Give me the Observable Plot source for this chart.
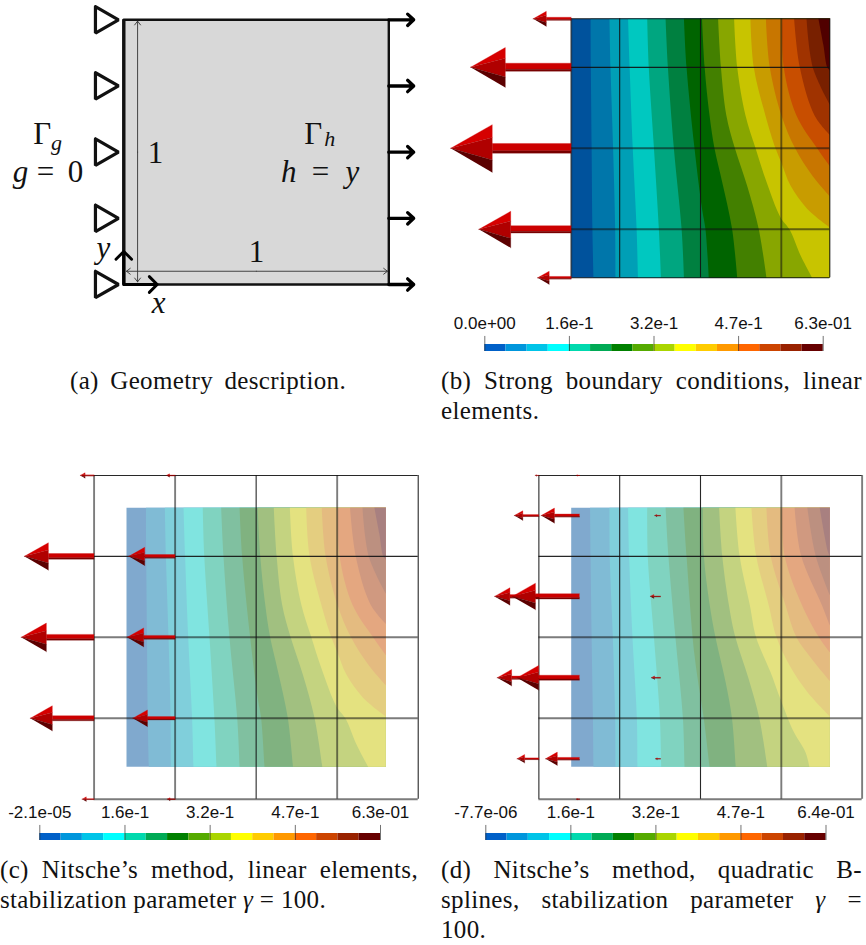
<!DOCTYPE html>
<html>
<head>
<meta charset="utf-8">
<style>
html,body{margin:0;padding:0;background:#fff;width:866px;height:945px;overflow:hidden}
#page{position:relative;width:866px;height:945px;overflow:hidden}
#page svg{position:absolute;background:transparent;max-width:none}
.cap{position:absolute;font-family:"Liberation Serif",serif;font-size:25px;line-height:30px;color:#111;white-space:nowrap;letter-spacing:.35px}
.just{text-align-last:justify;white-space:normal}
.cap i{font-style:italic}
</style>
<script src="https://cdn.jsdelivr.net/npm/d3@7"></script>
<script src="https://cdn.jsdelivr.net/npm/@observablehq/plot@0.6"></script>
</head>
<body>
<div id="page"></div>
<script>
// ---------- DATA (unit-square coordinates of the plate) ----------
const barColors = ["#0060c8","#0096dc","#00c4e8","#00ffff","#00d9ae","#00aa55","#008000","#55aa00","#aad500","#ffff00","#ffcc00","#ff9900","#ff6600","#cc4400","#992200","#660000"];
const contourColors = ["#00529c","#0076aa","#009fb6","#00c8c0","#00a680","#008040","#006400","#438000","#88a600","#c8c400","#c89c00","#c87600","#c84e00","#a03300","#782000","#500000"];

const levelV = [1, .813, .5, .187, 0];
// isolines of the strong / linear solution (panels b, c): [u, v] pairs
const isoLinear = [
  [.075,.076,.079,.082,.086].map((u,i)=>[u,levelV[i]]),
  [.148,.152,.162,.170,.171].map((u,i)=>[u,levelV[i]]),
  [.220,.226,.238,.253,.258].map((u,i)=>[u,levelV[i]]),
  [.294,.300,.320,.339,.347].map((u,i)=>[u,levelV[i]]),
  [.365,.374,.397,.427,.436].map((u,i)=>[u,levelV[i]]),
  [[.436,1],[.446,.813],[.477,.498],[.506,.266],[.519,.189],[.532,0]],
  [[.506,1],[.516,.813],[.535,.627],[.554,.5],[.584,.369],[.622,.189],[.642,0]],
  [[.568,1],[.579,.813],[.600,.627],[.633,.5],[.680,.356],[.725,.189],[.755,0]],
  [[.630,1],[.642,.813],[.674,.627],[.713,.5],[.751,.382],[.809,.234],[.844,.187],[.887,.086],[.932,0]],
  [[.693,1],[.706,.813],[.751,.627],[.790,.5],[.812,.446],[.848,.356],[.913,.266],[1,.195]],
  [[.753,1],[.768,.813],[.813,.627],[.866,.5],[.932,.395],[1,.315]],
  [[.816,1],[.822,.813],[.871,.627],[.951,.5],[1,.431]],
  [[.862,1],[.884,.813],[.941,.627],[1,.552]],
  [[.910,1],[.934,.813],[1,.668]],
  [[.956,1],[.975,.90],[.990,.813],[1,.80]]
];
// isolines of the quadratic B-spline solution (panel d)
const isoSpline = [
  [.073,.075,.079,.084,.086].map((u,i)=>[u,levelV[i]]),
  [.148,.149,.161,.170,.171].map((u,i)=>[u,levelV[i]]),
  [.220,.224,.237,.254,.256].map((u,i)=>[u,levelV[i]]),
  [.294,.296,.320,.343,.348].map((u,i)=>[u,levelV[i]]),
  [.365,.376,.403,.432,.438].map((u,i)=>[u,levelV[i]]),
  [[.434,1],[.446,.813],[.477,.43],[.513,.185],[.535,0]],
  [[.509,1],[.513,.816],[.536,.623],[.558,.5],[.597,.327],[.622,.185],[.636,0]],
  [[.572,1],[.584,.816],[.610,.623],[.635,.5],[.686,.340],[.728,.185],[.758,0]],
  [[.635,1],[.651,.816],[.691,.623],[.715,.5],[.771,.365],[.809,.262],[.861,.134],[.906,.056],[.921,0]],
  [[.697,1],[.715,.816],[.764,.623],[.794,.5],[.848,.385],[.913,.289],[1,.195]],
  [[.755,1],[.771,.816],[.829,.623],[.871,.5],[.925,.423],[1,.331]],
  [[.816,1],[.825,.816],[.893,.623],[.958,.5],[1,.442]],
  [[.864,1],[.889,.816],[.970,.623],[1,.546]],
  [[.913,1],[.945,.816],[1,.662]],
  [[.961,1],[.99,.84],[1,.81]]
];

const meshClipped = [0,.1875,.5,.8125,1];
const meshFull = [-.125,.1875,.5,.8125,1.125];

// reaction arrows: anchor u, anchor v, length
const arrowsB = [[0,1,.147],[0,.813,.389],[0,.5,.466],[0,.187,.357],[0,0,.130]];
const arrowsC = [
  [-.125,1.125,.053],[-.125,.8125,.269],[-.125,.5,.281],[-.125,.1875,.246],[-.125,-.125,.046],
  [.1875,1.125,.033],[.1875,.8125,.179],[.1875,.5,.185],[.1875,.1875,.163],[.1875,-.125,.030]
];
const arrowsD = [
  [-.125,1.125,.014],[-.125,.970,.095],[-.125,.658,.171],[-.125,.344,.161],[-.125,.031,.084],
  [.032,1.125,.012],[.032,.970,.148],[.032,.658,.260],[.032,.344,.241],[.032,.031,.131],[.032,-.125,.012],
  [.345,.970,.022],[.345,.658,.039],[.345,.344,.035],[.345,.031,.019]
];

const supportV = [1,.75,.5,.25,0];
const mathUpright = [
  {u:-.308,v:.568,t:"Γ"},{u:-.296,v:.425,t:"="},{u:-.182,v:.425,t:"0"},
  {u:.715,v:.568,t:"Γ"},{u:.742,v:.425,t:"="},
  {u:.120,v:.497,t:"1"},{u:.501,v:.123,t:"1"}
];
const mathItalic = [
  {u:-.390,v:.425,t:"g"},{u:.622,v:.425,t:"h"},{u:.863,v:.425,t:"y"},
  {u:-.077,v:.136,t:"y"},{u:.131,v:-.072,t:"x"}
];
const mathSub = [{u:-.254,v:.535,t:"g"},{u:.777,v:.55,t:"h"}];

const barB = {min:0,       ticks:[0,.1575,.315,.4725,.63],     labels:["0.0e+00","1.6e-1","3.2e-1","4.7e-1","6.3e-01"]};
const barC = {min:-2.1e-5, ticks:[-2.1e-5,.1575,.315,.4725,.63],labels:["-2.1e-05","1.6e-1","3.2e-1","4.7e-1","6.3e-01"]};
const barD = {min:-7.7e-6, ticks:[-7.7e-6,.16,.32,.48,.64],    labels:["-7.7e-06","1.6e-1","3.2e-1","4.7e-1","6.4e-01"]};

const captions = [
  {l:70, t:366,w:276,h:"(a) Geometry description."},
  {l:441,t:366,w:421,h:"(b) Strong boundary conditions, linear"},
  {l:441,t:396,h:"elements."},
  {l:0,  t:855,w:418,h:"(c) Nitsche’s method, linear elements,"},
  {l:0,  t:885,h:"stabilization parameter <i>γ</i> = 100."},
  {l:441,t:855,w:421,h:"(d) Nitsche’s method, quadratic B-"},
  {l:441,t:885,w:421,h:"splines, stabilization parameter <i>γ</i> ="},
  {l:441,t:915,h:"100."}
];

// ---------- helpers ----------
const page = document.getElementById("page");
function place(box, xr, yr, xd, yd, marks){
  const svg = Plot.plot({
    width:box.w, height:box.h, margin:0,
    x:{axis:null, domain:xd, range:[xr[0]-box.l, xr[1]-box.l]},
    y:{axis:null, domain:yd, range:[yr[0]-box.t, yr[1]-box.t]},
    style:{background:"transparent"},
    marks
  });
  svg.style.left = box.l+"px"; svg.style.top = box.t+"px";
  page.appendChild(svg);
}
const pts = {x:"0", y:"1"};
// rounds the first n vertices (the isoline), keeps the closing corners sharp
const isoCurve = (n)=>(ctx)=>{
  const c = d3.curveCatmullRom(ctx);
  let i = 0;
  return {
    lineStart(){ i = 0; c.lineStart(); },
    lineEnd(){ if(i<=n) c.lineEnd(); },
    point(x,y){
      if(i<n) c.point(x,y);
      else { if(i===n) c.lineEnd(); ctx.lineTo(x,y); }
      i++;
    }
  };
};
function bandMarks(iso, colors){
  const marks = [Plot.line([[0,0],[1,0],[1,1],[0,1]],{...pts,fill:colors[0],stroke:"none"})];
  iso.forEach((line,i)=>{
    const end = line[line.length-1];
    const poly = end[1]===0 ? [...line,[1,0],[1,1]] : [...line,[1,1]];
    marks.push(Plot.line(poly,{...pts,fill:colors[i+1],stroke:"none",curve:isoCurve(line.length)}));
  });
  return marks;
}
// heavy = mesh lines that render broad and grey in the reference
function meshMarks(u,v,lo,hi,heavyU,heavyV){
  const w = (set)=>(d)=>set.includes(d)?1.9:1.1;
  const o = (set)=>(d)=>set.includes(d)?.55:.9;
  return [
    Plot.ruleX(u,{y1:lo,y2:hi,stroke:"#111",strokeWidth:w(heavyU),strokeOpacity:o(heavyU)}),
    Plot.ruleY(v,{x1:lo,x2:hi,stroke:"#111",strokeWidth:w(heavyV),strokeOpacity:o(heavyV)})
  ];
}
// glyph proportions of the 3-D arrows, relative to their length
function glyphMarks(list){
  const facet = (fn)=>list.flatMap((a,id)=>fn(a[0],a[1],a[2]).map(p=>({x:p[0],y:p[1],id})));
  const hb = 1-.345;
  const layer = (fn,fill)=>Plot.line(facet(fn),{x:"x",y:"y",z:"id",fill,stroke:fill,strokeWidth:.3});
  return [
    layer((u,v,L)=>[[u,v-.02*L],[u-hb*L,v-.02*L],[u-hb*L,v+.04*L],[u,v+.04*L]],"#cc0000"),
    layer((u,v,L)=>[[u,v-.02*L],[u-hb*L,v-.02*L],[u-hb*L,v-.04*L],[u,v-.04*L]],"#780000"),
    layer((u,v,L)=>[[u-L,v],[u-hb*L,v+.196*L],[u-hb*L,v+.09*L]],"#d60000"),
    layer((u,v,L)=>[[u-L,v],[u-hb*L,v+.09*L],[u-hb*L,v-.097*L]],"#b00000"),
    layer((u,v,L)=>[[u-L,v],[u-hb*L,v-.097*L],[u-hb*L,v-.2*L]],"#5c0000")
  ];
}
function colorbar(box, xr, y0, cfg){
  const max = cfg.ticks[4];
  const edges = d3.range(17).map(i=>cfg.min+(max-cfg.min)*i/16);
  const cells = barColors.map((c,i)=>({a:edges[i],b:edges[i+1],c}));
  const svg = Plot.plot({
    width:box.w, height:box.h, margin:0,
    x:{axis:null, domain:[cfg.min,max], range:[xr[0]-box.l, xr[1]-box.l]},
    y:{axis:null, domain:[0,1], range:[y0-box.t, y0-box.t-7]},
    style:{background:"transparent"},
    marks:[
      Plot.rectY(cells,{x1:"a",x2:"b",y1:0,y2:1,fill:"c",inset:0}),
      Plot.ruleX(cfg.ticks,{y1:0,y2:2.15,stroke:"#222",strokeWidth:.8,strokeOpacity:.8}),
      Plot.text(cfg.ticks,{x:d=>d,y:3.25,text:(d,i)=>cfg.labels[i],fontSize:17,fontFamily:"Liberation Sans",fill:"#111",lineAnchor:"bottom"})
    ]
  });
  svg.style.left = box.l+"px"; svg.style.top = box.t+"px";
  page.appendChild(svg);
}

// ---------- panel a: geometry ----------
const square = [[0,0],[1,0],[1,1],[0,1],[0,0]];
const tri = supportV.flatMap((v,id)=>[[-.107,v+.05],[-.02,v],[-.107,v-.05],[-.107,v+.05]].map(p=>({x:p[0],y:p[1],id})));
const serif = "Liberation Serif";
place({l:0,t:0,w:433,h:320},[123.3,388.3],[284,19.3],[0,1],[0,1],[
  Plot.line(square,{...pts,fill:"#d8d8d8",stroke:"#111",strokeWidth:2.4}),
  Plot.ruleX([0],{y1:0,y2:1,stroke:"#111",strokeWidth:3.4}),
  Plot.line(tri,{x:"x",y:"y",z:"id",fill:"white",stroke:"#111",strokeWidth:3.2,strokeLinejoin:"miter"}),
  Plot.arrow(supportV,{x1:1,x2:1.094,y1:d=>d,y2:d=>d,stroke:"#000",strokeWidth:3.3,headAngle:86,headLength:8.5}),
  Plot.arrow([0],{x1:0,x2:.126,y1:0,y2:0,stroke:"#000",strokeWidth:2.9,headAngle:90,headLength:6.5}),
  Plot.arrow([0],{x1:0,x2:0,y1:0,y2:.125,stroke:"#000",strokeWidth:2.9,headAngle:90,headLength:6.5}),
  Plot.arrow([.995,.01],{x1:.052,x2:.052,y1:.5,y2:d=>d,stroke:"#333",strokeWidth:.9,headAngle:75,headLength:8}),
  Plot.arrow([.01,.995],{x1:.5,x2:d=>d,y1:.05,y2:.05,stroke:"#333",strokeWidth:.9,headAngle:75,headLength:8}),
  Plot.text(mathUpright,{x:"u",y:"v",text:"t",fontSize:31,fontFamily:serif,fill:"#111"}),
  Plot.text(mathItalic,{x:"u",y:"v",text:"t",fontSize:31,fontFamily:serif,fontStyle:"italic",fill:"#111"}),
  Plot.text(mathSub,{x:"u",y:"v",text:"t",fontSize:22,fontFamily:serif,fontStyle:"italic",fill:"#111"})
]);

// ---------- panel b ----------
place({l:433,t:0,w:433,h:300},[570.7,829.3],[277.3,18.3],[0,1],[0,1],[
  ...bandMarks(isoLinear,contourColors),
  ...meshMarks(meshClipped,meshClipped,0,1,[0,.8125],[.5,.1875]),
  ...glyphMarks(arrowsB)
]);
colorbar({l:433,t:310,w:433,h:45},[484.3,822.7],351,barB);

// ---------- panel c ----------
const washed = contourColors.map(c=>d3.interpolateRgb("white",c)(.5));
place({l:0,t:460,w:433,h:345},[126,385.3],[766.3,507.3],[0,1],[0,1],[
  ...bandMarks(isoLinear,washed),
  ...meshMarks(meshFull,meshFull,-.125,1.125,[-.125,.1875,.8125],[.5,.1875,-.125]),
  ...glyphMarks(arrowsC)
]);
colorbar({l:0,t:802,w:433,h:42},[39.3,380],840,barC);

// ---------- panel d ----------
place({l:433,t:460,w:433,h:345},[570.7,829.3],[766.3,507.3],[0,1],[0,1],[
  ...bandMarks(isoSpline,washed),
  ...meshMarks(meshFull,meshFull,-.125,1.125,[.8125,1.125],[.5,.1875,-.125]),
  ...glyphMarks(arrowsD)
]);
colorbar({l:433,t:802,w:433,h:42},[485.3,825.5],840,barD);

// ---------- captions ----------
captions.forEach(c=>{
  const d = document.createElement("div");
  d.className = "cap"+(c.w?" just":"");
  d.style.left = c.l+"px"; d.style.top = c.t+"px";
  if(c.w) d.style.width = c.w+"px";
  d.innerHTML = c.h;
  page.appendChild(d);
});
</script>
</body>
</html>
